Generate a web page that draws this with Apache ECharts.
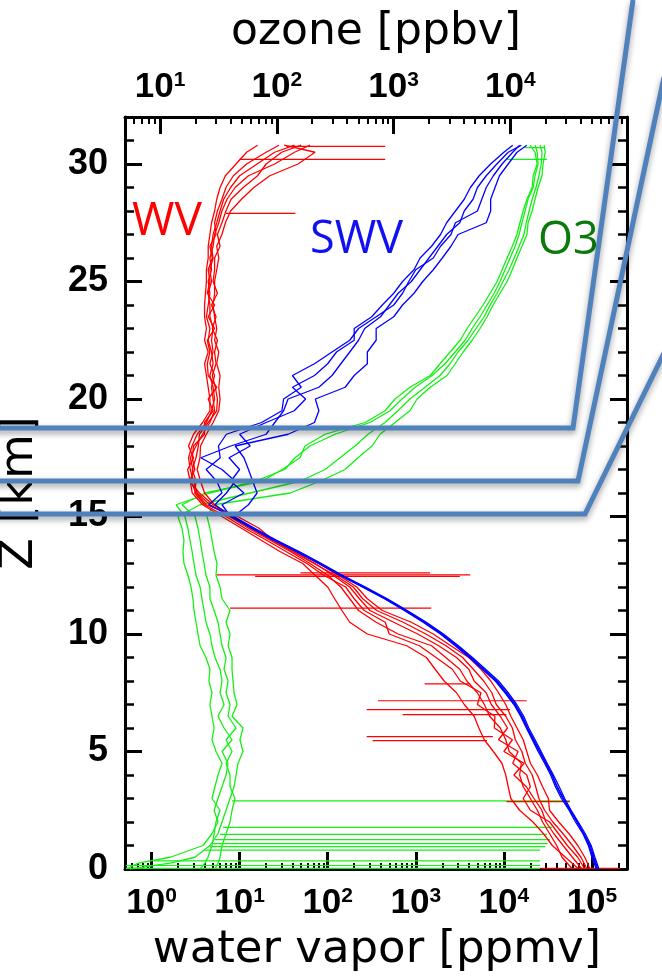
<!DOCTYPE html>
<html>
<head>
<meta charset="utf-8">
<script src="https://cdn.jsdelivr.net/npm/echarts@6/dist/echarts.min.js"></script>
<style>
html, body { margin: 0; padding: 0; background: #fff; }
#main { width: 662px; height: 980px; }
</style>
</head>
<body>
<div id="main"></div>
<script>
// altitude grid [km] shared by WV and SWV profiles
var zStd = [0,0.5,1,1.5,2,2.5,3,3.5,4,4.5, 5,5.5,6,6.5,7,7.5,8,8.5,9,9.5,
  10,10.5,11,11.5,12,12.5,13,13.5,14,14.5, 15,15.5,16,16.5,17,17.5,18,18.5,19,19.5,
  20,20.5,21,21.5,22,22.5,23,23.5,24,24.5, 25,25.5,26,26.5,27,27.5,28,28.5,29,29.5,
  30,30.5,30.8];

// water vapor [ppmv], 6 soundings
var wv1 = [95000,83000,69000,55000,42000,33000,32000,27500,24000,20000, 18200,16600,14100,12000,10500,8700,7100,5500,4000,2500,
  1580,890,417,282,214,132,79,46,25,14.1, 8.3,4.6,3.3,3.0,2.75,2.63,2.88,3.3,4.2,4.8,
  5.2,5.0,4.6,5.0,4.8,4.4,4.6,4.2,4.4,4.6, 4.4,4.8,4.6,5.0,5.2,5.8,6.3,7.2,8.9,12.6, 25,42,63];
var wv2 = [70800,50000,35500,28200,21400,15100,12000,11200,10500,9500, 7600,6000,5200,4600,3550,2900,2100,1660,1320,790,
  282,178,145,120,100,72,52,29,17.4,10.5, 6.3,3.8,2.9,2.75,2.57,3.0,2.63,3.0,3.8,4.6,
  4.6,4.4,4.2,4.0,4.4,4.0,4.2,4.0,4.0,4.1, 4.2,4.2,4.4,4.4,4.6,4.8,5.2,5.5,6.0,6.9, 9.1,12,16];
var wv3 = [60000,45700,39800,33100,27500,24000,20000,16600,15100,15800, 11500,10500,9100,6900,6000,5000,3800,3160,2190,1510,
  630,355,224,178,141,100,63,38,22,12.6, 7.6,5.2,4.0,3.6,3.3,3.55,3.6,4.2,5.0,5.8,
  6.0,5.8,6.0,5.5,5.8,5.2,5.5,5.2,5.0,5.2, 5.2,5.5,5.8,5.5,6.3,6.9,7.9,10.5,14.5,22, 46,72,32];
var wv4 = [83000,69000,52500,41700,33100,20000,16600,20000,18200,12600, 14500,8700,11000,9100,7200,6300,4600,4000,2900,1820,
  1050,562,302,229,178,115,72,42,24,16.6, 9.5,4.2,3.2,2.8,2.95,2.75,3.2,3.8,4.6,5.2,
  5.0,4.8,5.2,4.6,5.0,4.8,5.0,4.6,4.6,4.4, 4.8,4.6,5.0,4.8,5.0,5.5,6.0,6.6,7.9,10, 15.8,25,42];
var wv5 = [77000,60000,47000,37000,30000,27000,22000,18000,13000,17000, 10000,12500,7800,7900,5000,5500,3200,2600,1700,1100,
  500,450,260,200,160,90,58,34,20,11.5, 7.0,4.0,3.1,3.2,2.9,3.2,3.4,3.5,4.4,5.5,
  5.6,5.3,4.9,5.4,5.2,5.6,4.9,5.4,4.8,5.6, 5.0,5.2,5.2,6.0,5.6,6.3,7.0,8.0,11,16, 20,30,50];
var wv6 = [88000,75000,60000,47000,36000,29000,25000,23000,21000,17500, 16000,13500,12500,10500,8200,7300,5900,4500,3400,2200,
  1300,720,360,250,195,122,70,40,23,13.3, 8.7,5.0,3.5,2.7,3.1,2.9,3.0,4.0,4.0,5.0,
  4.4,5.5,4.4,4.3,4.6,4.3,5.2,4.4,5.2,4.3, 4.6,4.4,4.9,4.6,5.4,5.2,5.6,6.3,7.0,8.5, 12,20,28];
// horizontal WV spikes: altitude, from, to [ppmv]
var wvSpikeZ    = [0.03,2.87,5.46,5.63,6.57,6.78,7.16,7.88,11.1,12.45,12.52,12.6,27.9,30.2,30.75];
var wvSpikeFrom = [26000,10700,324,277,710,277,372,1260,7.8,15,5.5,49,7,10,34];
var wvSpikeTo   = [209000,56000,6450,7500,10700,11700,18200,4150,1500,3160,4150,1450,43,450,450];

// saturation water vapor [ppmv], 4 soundings
var swv1 = [117000,105000,95500,81300,67600,56200,46800,39800,35500,30200, 25700,21900,18600,16200,13500,10700,8300,5940,4240,2940,
  1990,1270,775,459,258,142,82,46,25.2,14.2, 8.2,5.25,7.08,8.91,6.31,3.63,7.94,20,25.1,31.6,
  35.5,79.4,112,141,178,224,263,398,501,631, 891,1120,1410,1780,2240,3160,3550,4470,5010,6310, 8320,11200,15800];
var swv2 = [112000,100000,91000,79000,65000,55000,45000,38500,34000,29000, 24500,21000,18000,15500,13000,10300,8000,5700,4050,2800,
  1900,1210,740,440,247,136,79,44,24,13.6, 7.9,6.31,11.2,7.94,10,7.59,13.2,10,20,41.7,
  56.2,39.8,70.8,100,126,200,200,316,417,562, 708,955,1120,1510,1910,2240,2820,3550,4170,5250, 7080,10000,12600];
var swv3 = [120000,108000,98000,84000,70000,58000,49000,42500,36500,31000, 26500,22600,19200,16800,14000,11200,8700,6200,4400,3050,
  2060,1320,800,475,268,147,85,48,26,14.8, 8.6,12.6,15.8,14.1,12.6,11.2,8.91,35.5,70.8,79.4,
  72.4,158,200,282,282,355,355,562,708,955, 1200,1580,2000,2510,3020,6310,7080,7080,7940,8910, 11200,14100,18200];
var swv4 = [115000,103000,93000,80000,68500,57000,47500,40500,35000,29800, 25300,21500,18300,15900,13300,10500,8150,5850,4150,2880,
  1950,1250,760,450,252,139,80,45,24.6,13.9, 8.0,4.47,6.31,5.5,4.17,6.03,5.75,7.08,17.8,30.2,
  31.6,50.1,39.8,70.8,112,178,224,355,562,708, 832,1000,1580,1910,2510,2820,5010,5620,6310,7590, 9550,12600,15100];

// altitude grid [km] for ozone
var zO3 = [0,0.25,0.5,1,1.5,2,2.5,3,3.5,4, 4.5,5,5.5,6,6.5,7,7.5,8,8.5,9,
  9.5,10,10.5,11,11.5,12,12.5,13,13.5,14, 14.5,15,15.5,16,16.5,17,17.5,18,18.5,19,
  19.5,20,20.5,21,21.5,22,22.5,23,23.5,24, 24.5,25,25.5,26,26.5,27,27.5,28,28.5,29,
  29.5,30,30.5,30.8];
// ozone [ppbv], 4 soundings
var o3a = [5.1,6.5,12.2,23.3,27.8,31.3,29.0,31.3,33.9,36.7, 38.2,33.9,41.3,35.3,31.3,35.3,32.6,33.9,32.6,29.5,
  27.8,26.7,24.7,23.8,22.8,22.0,20.3,19.5,18.8,18.0, 17.3,16.3,13.7,26.7,65,117,143,192,315,628,
  933,1180,1530,2140,2760,3370,4100,4710,5510,6330, 7270,8170,9020,9960,11000,11900,12600,13400,14200,15700,
  16300,17300,17000,16300];
var o3b = [5.52,12.2,19.9,26.7,31.3,33.9,36.7,39.7,43.0,44.7, 46.5,51.3,48.3,51.3,41.3,45.6,43.0,42.1,41.3,41.3,
  38.2,39.7,36.7,39.7,33.9,32.6,30.1,30.7,29.0,27.8, 26.7,25.2,29.0,130,234,384,496,654,766,1030,
  1380,1590,2060,2870,3370,3950,4710,5510,6330,7130, 8170,9390,10400,11400,12600,13900,14200,15400,16300,17300,
  18700,19100,19900,19500];
var o3c = [22.0,24.2,25.7,27.8,29.0,30.1,32.6,27.8,29.5,31.3, 33.9,30.1,27.8,29.0,27.8,26.7,27.8,26.2,26.7,24.7,
  22.0,21.1,20.3,19.5,19.1,18.4,17.3,16.0,15.7,16.0, 15.4,14.2,22.0,58.9,158,259,348,468,604,845,
  1090,1380,1860,2500,3050,3570,4350,5090,5970,6720, 7710,8670,9770,10800,11900,13100,13700,14500,15400,16600,
  17600,18400,18700,18000];
var o3d = [29.5,31.3,32.6,33.9,36.7,39.7,41.3,43.8,39.7,39.7, 36.7,41.3,36.7,44.7,38.2,39.7,36.7,38.2,35.3,36.7,
  33.9,32.6,31.3,29.0,26.7,26.7,24.7,23.8,22.8,22.0, 21.1,19.9,15.4,24.2,74.6,111,158,174,259,570,
  845,1030,1380,2060,2500,3050,3720,4270,4990,5850, 6720,7710,8510,9390,10400,11400,12100,12900,13900,15400,
  15700,17000,16300,14800];
// horizontal ozone spikes: altitude, from, to [ppbv]
var o3SpikeZ    = [0.03,0.15,0.35,0.8,0.95,1.08,1.25,1.47,1.77,2.9,30.2,30.7];
var o3SpikeFrom = [5.1,5.1,8.8,24.2,26.7,28.4,29.5,32.6,34.6,41.3,9400,13400];
var o3SpikeTo   = [18000,18000,18000,18000,19900,20900,21900,20700,22800,32500,20700,19900];

// ticks
var wvMajor = [1,10,100,1000,10000,100000];
var wvMinor = [0.6,0.7,0.8,0.9,2,3,4,5,6,7,8,9,20,30,40,50,60,70,80,90,200,300,400,500,600,700,800,900,
  2000,3000,4000,5000,6000,7000,8000,9000,20000,30000,40000,50000,60000,70000,80000,90000,200000];
var o3Major = [10,100,1000,10000];
var o3Minor = [6,7,8,9,20,30,40,50,60,70,80,90,200,300,400,500,600,700,800,900,
  2000,3000,4000,5000,6000,7000,8000,9000,20000,30000,40000,50000,60000,70000,80000,90000];
var zMajor = [0,5,10,15,20,25,30];

var RED = '#ff0000', BLUE = '#0000ff', GREEN = '#14f014';

function profile(vals, zs, color, xi) {
  var d = [];
  for (var i = 0; i < vals.length; i++) d.push([vals[i], zs[i]]);
  return {
    type: 'line', xAxisIndex: xi, yAxisIndex: 0, data: d,
    showSymbol: false, silent: true, animation: false,
    lineStyle: { color: color, width: 1.3 }
  };
}
function spikes(zs, from, to, color, xi) {
  var out = [];
  for (var i = 0; i < zs.length; i++) {
    out.push({
      type: 'line', xAxisIndex: xi, yAxisIndex: 0,
      data: [[from[i], zs[i]], [to[i], zs[i]]],
      showSymbol: false, silent: true, animation: false,
      lineStyle: { color: color, width: 1.2 }
    });
  }
  return out;
}

var labelFont = 'Liberation Sans';
var powRich = {
  b: { fontFamily: labelFont, fontWeight: 'bold', fontSize: 35, color: '#000' },
  s: { fontFamily: labelFont, fontWeight: 'bold', fontSize: 21, color: '#000', verticalAlign: 'top' }
};
function powLabel(v) {
  var e = Math.round(Math.log(v) / Math.LN10);
  return '{b|10}{s|' + e + '}';
}
var black = { color: '#000', width: 3 };

var series = [];
series.push(profile(o3a, zO3, GREEN, 2), profile(o3b, zO3, GREEN, 2),
  profile(o3c, zO3, GREEN, 2), profile(o3d, zO3, GREEN, 2));
series = series.concat(spikes(o3SpikeZ, o3SpikeFrom, o3SpikeTo, GREEN, 2));
series.push(profile(wv1, zStd, RED, 0), profile(wv2, zStd, RED, 0),
  profile(wv3, zStd, RED, 0), profile(wv4, zStd, RED, 0),
  profile(wv5, zStd, RED, 0), profile(wv6, zStd, RED, 0));
series = series.concat(spikes(wvSpikeZ, wvSpikeFrom, wvSpikeTo, RED, 0));
series.push(profile(swv1, zStd, BLUE, 0), profile(swv2, zStd, BLUE, 0),
  profile(swv3, zStd, BLUE, 0), profile(swv4, zStd, BLUE, 0));

var calloutStyle = {
  stroke: '#4f81bd', lineWidth: 5, fill: null,
  shadowBlur: 6, shadowOffsetY: 3, shadowColor: 'rgba(0,0,0,0.4)'
};

var myChart = echarts.init(document.getElementById('main'));
var option = {
  backgroundColor: '#fff',
  animation: false,
  grid: { left: 125, right: 35, top: 117, bottom: 111, containLabel: false },
  xAxis: [
    {
      type: 'log', position: 'bottom', min: 0.5, max: 250000,
      axisLine: { onZero: false, lineStyle: black },
      axisTick: { inside: true, length: 17, lineStyle: black, customValues: wvMajor },
      axisLabel: { customValues: wvMajor, margin: 17, formatter: powLabel, rich: powRich },
      splitLine: { show: false }
    },
    {
      type: 'log', position: 'bottom', min: 0.5, max: 250000,
      axisLine: { show: false, onZero: false },
      axisTick: { inside: true, length: 6, lineStyle: { color: '#000', width: 2 }, customValues: wvMinor },
      axisLabel: { show: false }, splitLine: { show: false }
    },
    {
      type: 'log', position: 'top', min: 5, max: 100000,
      axisLine: { onZero: false, lineStyle: black },
      axisTick: { inside: true, length: 17, lineStyle: black, customValues: o3Major },
      axisLabel: { customValues: o3Major, margin: 12, formatter: powLabel, rich: powRich },
      splitLine: { show: false }
    },
    {
      type: 'log', position: 'top', min: 5, max: 100000,
      axisLine: { show: false, onZero: false },
      axisTick: { inside: true, length: 7, lineStyle: { color: '#000', width: 2 }, customValues: o3Minor },
      axisLabel: { show: false }, splitLine: { show: false }
    }
  ],
  yAxis: [
    {
      type: 'value', position: 'left', min: 0, max: 32,
      axisLine: { onZero: false, lineStyle: black },
      axisTick: { inside: true, length: 17, lineStyle: black, customValues: zMajor },
      axisLabel: { customValues: zMajor, margin: 17, fontFamily: labelFont, fontWeight: 'bold', fontSize: 36, color: '#000' },
      splitLine: { show: false }
    },
    {
      type: 'value', position: 'left', min: 0, max: 32, interval: 1,
      axisLine: { show: false, onZero: false },
      axisTick: { inside: true, length: 9, lineStyle: { color: '#000', width: 2.5 } },
      axisLabel: { show: false }, splitLine: { show: false }
    },
    {
      type: 'value', position: 'right', min: 0, max: 32,
      axisLine: { onZero: false, lineStyle: black },
      axisTick: { inside: true, length: 17, lineStyle: black, customValues: zMajor },
      axisLabel: { show: false }, splitLine: { show: false }
    },
    {
      type: 'value', position: 'right', min: 0, max: 32, interval: 1,
      axisLine: { show: false, onZero: false },
      axisTick: { inside: true, length: 9, lineStyle: { color: '#000', width: 2.5 } },
      axisLabel: { show: false }, splitLine: { show: false }
    }
  ],
  series: series,
  graphic: [
    { type: 'text', x: 376, y: 33, style: { text: 'ozone [ppbv]', font: '44px "DejaVu Sans"', fill: '#000', textAlign: 'center', textVerticalAlign: 'middle' } },
    { type: 'text', x: 377, y: 950, style: { text: 'water vapor [ppmv]', font: '45px "DejaVu Sans"', fill: '#000', textAlign: 'center', textVerticalAlign: 'middle' } },
    { type: 'text', x: 20, y: 493, rotation: Math.PI / 2, style: { text: 'Z [km]', font: '46px "DejaVu Sans"', fill: '#000', textAlign: 'center', textVerticalAlign: 'middle' } },
    { type: 'text', x: 132, y: 222, z: 50, style: { text: 'WV', font: '46px "Open Sans"', fill: '#ff0000', textAlign: 'left', textVerticalAlign: 'middle' } },
    { type: 'text', x: 310, y: 240, z: 50, style: { text: 'SWV', font: '45px "Open Sans"', fill: '#1010f0', textAlign: 'left', textVerticalAlign: 'middle' } },
    { type: 'text', x: 538, y: 241, z: 50, style: { text: 'O3', font: '45px "Open Sans"', fill: '#0a7a0a', textAlign: 'left', textVerticalAlign: 'middle' } },
    { type: 'polyline', z: 100, shape: { points: [[-10, 428], [573, 428], [633, 0]] }, style: calloutStyle },
    { type: 'polyline', z: 100, shape: { points: [[-10, 481], [578, 481], [664, 77]] }, style: calloutStyle },
    { type: 'polyline', z: 100, shape: { points: [[-10, 514], [585, 514], [664, 353]] }, style: calloutStyle }
  ]
};
myChart.setOption(option);
</script>
</body>
</html>
